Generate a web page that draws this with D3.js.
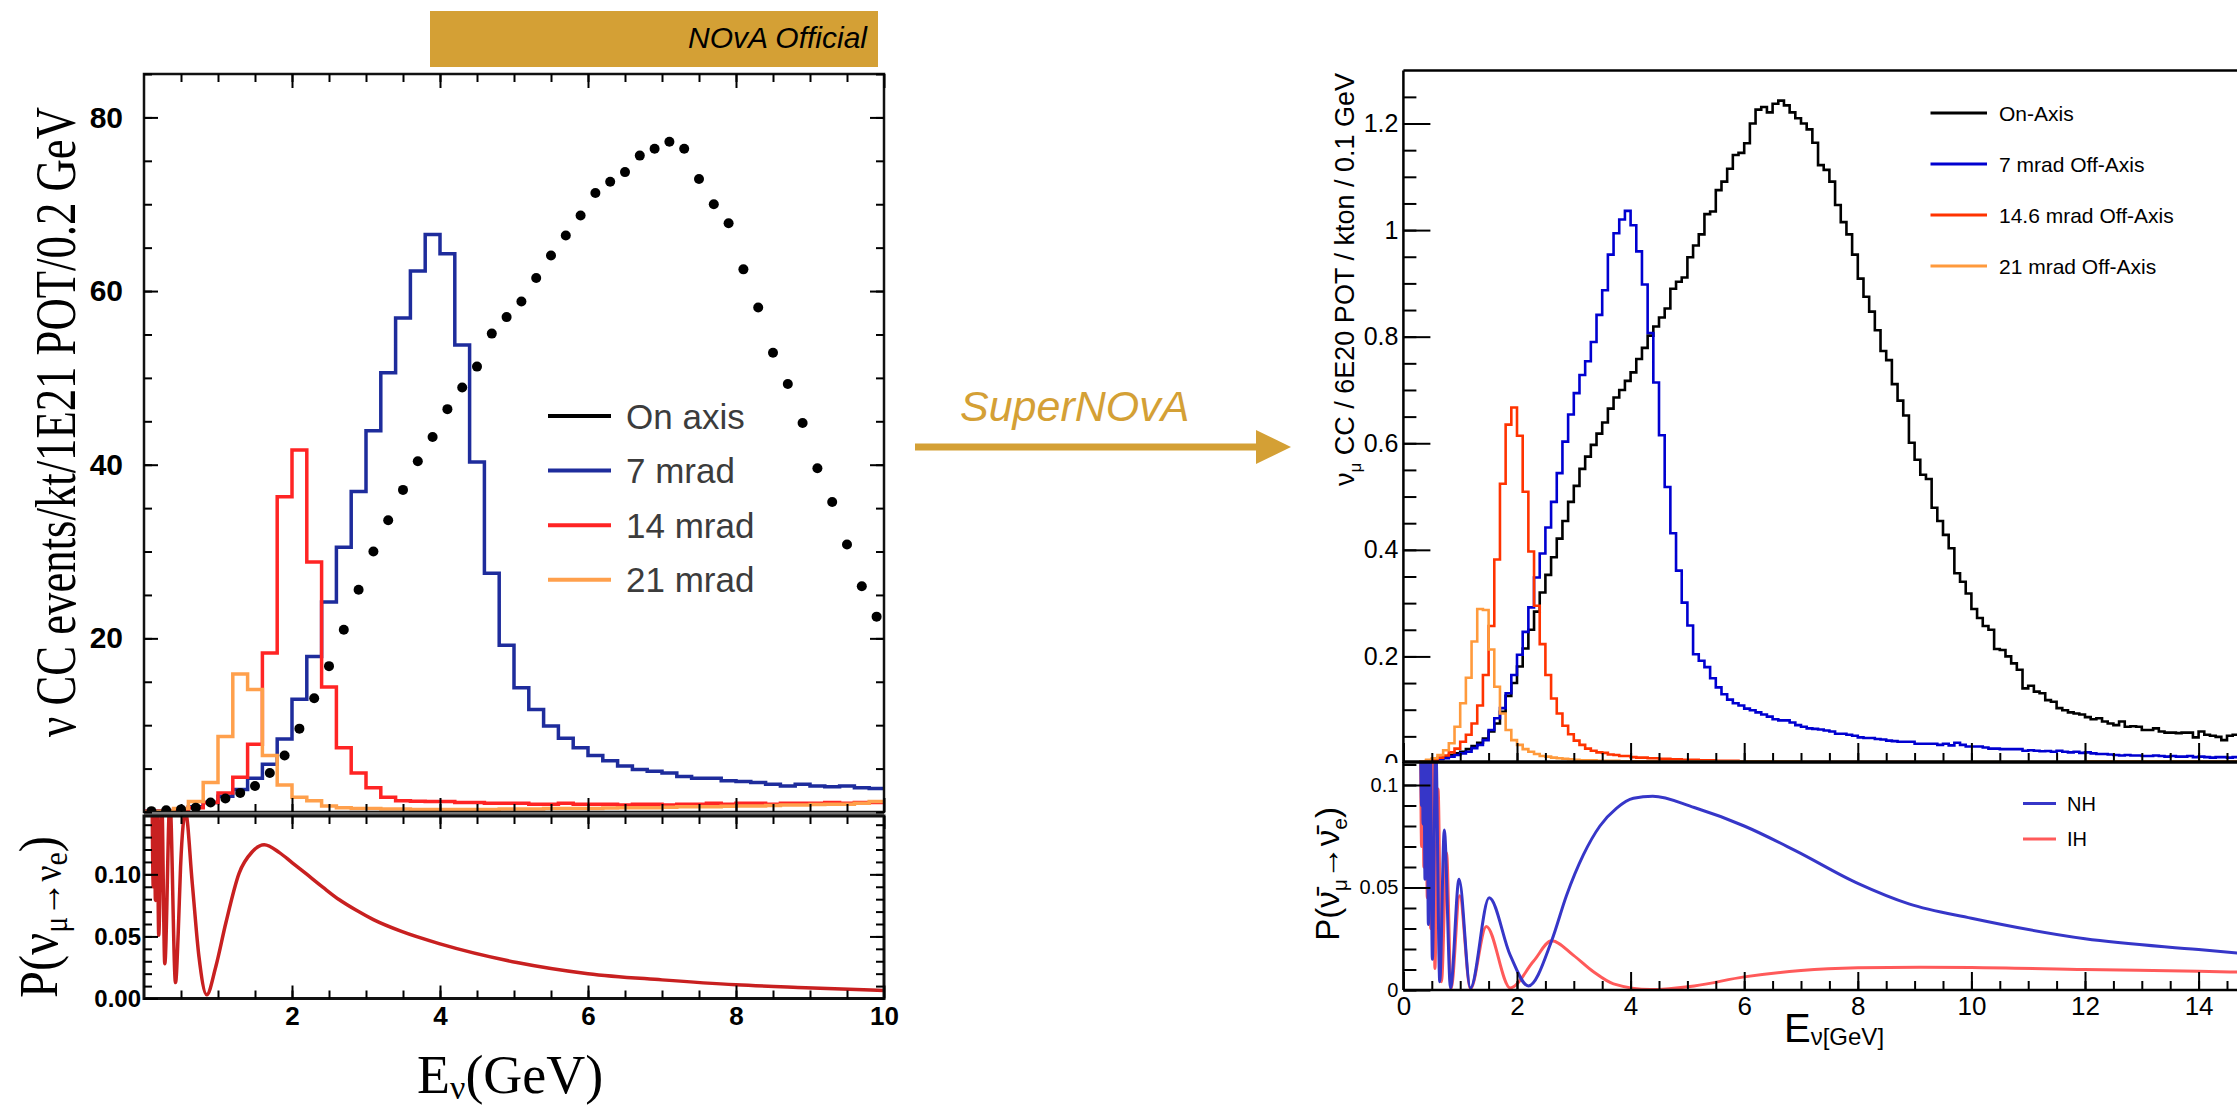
<!DOCTYPE html>
<html>
<head>
<meta charset="utf-8">
<script src="https://cdn.jsdelivr.net/npm/d3@7"></script>
<style>
body { margin: 0; background: #fff; }
svg { display: block; }
</style>
</head>
<body>
<svg id="chart" width="2237" height="1106"></svg>
<script>
// ---- left plot (NOvA official), 0.2 GeV bins ----
const LEFT_BIN = 0.2;
const leftLegend = ["On axis", "7 mrad", "14 mrad", "21 mrad"];
const leftColors = ["#000000", "#1e2c9c", "#ff2424", "#ffa04c"];
const leftOnAxis = [
  0.1, 0.2, 0.3, 0.5, 1.1, 1.55, 2.2, 3.0, 4.5, 6.5,
  9.6, 13.1, 16.8, 21.0, 25.6, 30.0, 33.6, 37.1, 40.4, 43.2,
  46.4, 48.9, 51.3, 55.1, 57.0, 58.8, 61.5, 64.1, 66.4, 68.7,
  71.3, 72.6, 73.7, 75.6, 76.4, 77.2, 76.4, 72.9, 70.0, 67.8,
  62.5, 58.1, 52.9, 49.3, 44.8, 39.6, 35.7, 30.8, 26.0, 22.5];
const left7mrad = [
  0.1, 0.15, 0.3, 0.6, 1.1, 1.8, 2.6, 3.9, 5.5, 8.4,
  13.0, 17.9, 24.2, 30.5, 36.9, 43.9, 50.6, 56.9, 62.3, 66.5,
  64.3, 53.8, 40.3, 27.5, 19.2, 14.3, 11.8, 9.9, 8.5, 7.4,
  6.5, 5.9, 5.3, 4.9, 4.7, 4.5, 4.1, 3.9, 3.9, 3.6,
  3.5, 3.4, 3.2, 3.0, 3.2, 3.0, 2.9, 3.0, 2.8, 2.7];
const left14mrad = [
  0.1, 0.1, 0.2, 0.5, 1.1, 2.2, 4.0, 7.8, 18.3, 36.3,
  41.7, 28.8, 14.4, 7.4, 4.5, 2.8, 1.7, 1.3, 1.25, 1.2,
  1.2, 1.1, 1.1, 1.0, 1.0, 1.0, 0.9, 0.9, 1.0, 0.9,
  0.9, 0.9, 0.8, 0.9, 0.9, 0.8, 0.9, 0.9, 1.0, 0.9,
  1.0, 1.0, 0.9, 1.0, 1.0, 1.0, 1.1, 1.0, 1.1, 1.1];
const left21mrad = [
  0.0, 0.1, 0.4, 1.2, 3.4, 8.7, 15.9, 14.1, 6.5, 3.1,
  1.7, 1.3, 0.7, 0.5, 0.4, 0.4, 0.35, 0.35, 0.3, 0.3,
  0.3, 0.3, 0.3, 0.3, 0.35, 0.35, 0.35, 0.4, 0.4, 0.4,
  0.4, 0.45, 0.5, 0.5, 0.5, 0.55, 0.6, 0.6, 0.6, 0.65,
  0.7, 0.7, 0.75, 0.8, 0.8, 0.85, 0.9, 0.9, 1.0, 1.2];
// P(numu -> nue) vs E, [GeV, prob]
const leftProb = [
  [0.11, 0.16], [0.125, 0.09], [0.14, 0.16], [0.154, 0.079], [0.177, 0.16], [0.199, 0.051],
  [0.24, 0.16], [0.281, 0.028], [0.35, 0.16], [0.426, 0.0128], [0.462, 0.052], [0.494, 0.106],
  [0.561, 0.15], [0.652, 0.093], [0.742, 0.034], [0.847, 0.003], [0.97, 0.0256], [1.105, 0.0606],
  [1.286, 0.101], [1.46, 0.118], [1.625, 0.1238], [1.83, 0.1175], [2.0, 0.1095], [2.19, 0.1005],
  [2.42, 0.0895], [2.64, 0.0795], [2.87, 0.0710], [3.1, 0.0635], [3.48, 0.054], [4.0, 0.044],
  [5.04, 0.029], [6.0, 0.020], [7.0, 0.015], [8.0, 0.011], [8.94, 0.0087], [10.0, 0.0064]];
const leftYTicks = [20, 40, 60, 80];
const leftPTicks = [0, 0.05, 0.10];
const leftXTicks = [2, 4, 6, 8, 10];

// ---- right plot (SuperNOvA), 0.1 GeV bins ----
const RIGHT_BIN = 0.1;
const rightLegend = ["On-Axis", "7 mrad Off-Axis", "14.6 mrad Off-Axis", "21 mrad Off-Axis"];
const rightColors = ["#000000", "#0000d0", "#ff3300", "#ff9a3c"];
const rightOnAxis = [
  0, 0, 0.001, 0.002, 0.004, 0.006, 0.008, 0.012, 0.015, 0.018,
  0.021, 0.026, 0.032, 0.038, 0.046, 0.059, 0.074, 0.096, 0.126, 0.150,
  0.181, 0.215, 0.250, 0.284, 0.320, 0.353, 0.386, 0.421, 0.454, 0.490,
  0.520, 0.552, 0.575, 0.597, 0.618, 0.639, 0.665, 0.686, 0.700, 0.717,
  0.733, 0.758, 0.779, 0.802, 0.819, 0.836, 0.853, 0.890, 0.903, 0.911,
  0.949, 0.971, 0.992, 1.030, 1.035, 1.075, 1.091, 1.115, 1.141, 1.145,
  1.163, 1.200, 1.226, 1.231, 1.221, 1.237, 1.243, 1.234, 1.221, 1.210,
  1.200, 1.189, 1.164, 1.122, 1.113, 1.091, 1.047, 1.015, 0.992, 0.954,
  0.909, 0.875, 0.847, 0.812, 0.773, 0.756, 0.711, 0.680, 0.652, 0.601,
  0.569, 0.541, 0.533, 0.479, 0.454, 0.428, 0.403, 0.356, 0.340, 0.318,
  0.289, 0.272, 0.257, 0.250, 0.214, 0.212, 0.200, 0.187, 0.175, 0.140,
  0.145, 0.134, 0.131, 0.118, 0.115, 0.103, 0.099, 0.095, 0.093, 0.091,
  0.086, 0.082, 0.084, 0.078, 0.074, 0.071, 0.078, 0.068, 0.069, 0.068,
  0.062, 0.062, 0.065, 0.059, 0.057, 0.057, 0.056, 0.057, 0.057, 0.048,
  0.059, 0.053, 0.051, 0.049, 0.043, 0.051, 0.053, 0.043];
const right7mrad = [
  0, 0, 0.001, 0.002, 0.003, 0.005, 0.007, 0.009, 0.012, 0.015,
  0.018, 0.021, 0.028, 0.034, 0.043, 0.062, 0.084, 0.103, 0.131, 0.165,
  0.203, 0.246, 0.292, 0.348, 0.393, 0.442, 0.490, 0.544, 0.603, 0.654,
  0.694, 0.728, 0.754, 0.790, 0.841, 0.887, 0.954, 0.994, 1.020, 1.036,
  1.009, 0.960, 0.898, 0.807, 0.714, 0.615, 0.518, 0.431, 0.361, 0.301,
  0.258, 0.204, 0.192, 0.180, 0.159, 0.142, 0.129, 0.119, 0.112, 0.108,
  0.102, 0.099, 0.095, 0.091, 0.087, 0.082, 0.080, 0.080, 0.076, 0.071,
  0.068, 0.065, 0.064, 0.063, 0.061, 0.059, 0.055, 0.055, 0.053, 0.051,
  0.048, 0.047, 0.047, 0.045, 0.044, 0.042, 0.041, 0.040, 0.040, 0.040,
  0.036, 0.036, 0.036, 0.036, 0.034, 0.036, 0.033, 0.038, 0.034, 0.031,
  0.031, 0.031, 0.029, 0.027, 0.027, 0.026, 0.026, 0.026, 0.026, 0.023,
  0.024, 0.023, 0.022, 0.0225, 0.021, 0.023, 0.021, 0.020, 0.021, 0.019,
  0.020, 0.018, 0.017, 0.017, 0.016, 0.015, 0.014, 0.015, 0.014, 0.014,
  0.013, 0.013, 0.014, 0.013, 0.012, 0.013, 0.012, 0.012, 0.013, 0.011,
  0.012, 0.011, 0.010, 0.011, 0.011, 0.010, 0.011, 0.010];
const right146mrad = [
  0, 0, 0.001, 0.002, 0.003, 0.005, 0.010, 0.014, 0.020, 0.027,
  0.040, 0.053, 0.074, 0.108, 0.165, 0.257, 0.382, 0.524, 0.635, 0.667,
  0.614, 0.509, 0.397, 0.295, 0.223, 0.165, 0.121, 0.093, 0.070, 0.054,
  0.042, 0.034, 0.027, 0.023, 0.020, 0.019, 0.016, 0.015, 0.013, 0.013,
  0.011, 0.010, 0.010, 0.009, 0.009, 0.008, 0.008, 0.007, 0.007, 0.006,
  0.006, 0.006, 0.005, 0.005, 0.005, 0.004, 0.004, 0.004, 0.004, 0.003,
  0.003, 0.003, 0.003, 0.003, 0.003, 0.003, 0.002, 0.002, 0.002, 0.002,
  0.002, 0.002, 0.002, 0.002, 0.002, 0.002, 0.002, 0.002, 0.002, 0.002,
  0.002, 0.002, 0.002, 0.002, 0.002, 0.002, 0.002, 0.002, 0.002, 0.002,
  0.001, 0.001, 0.001, 0.001, 0.001, 0.001, 0.001, 0.001, 0.001, 0.001,
  0.001, 0.001, 0.001, 0.001, 0.001, 0.001, 0.001, 0.001, 0.001, 0.001,
  0.001, 0.001, 0.001, 0.001, 0.001, 0.001, 0.001, 0.001, 0.001, 0.001,
  0.001, 0.001, 0.001, 0.001, 0.001, 0.001, 0.001, 0.001, 0.001, 0.001,
  0.001, 0.001, 0.001, 0.001, 0.001, 0.001, 0.001, 0.001, 0.001, 0.001,
  0.001, 0.001, 0.001, 0.001, 0.001, 0.001, 0.001, 0.001];
const right21mrad = [
  0, 0, 0.001, 0.003, 0.006, 0.009, 0.015, 0.024, 0.037, 0.068,
  0.112, 0.160, 0.228, 0.289, 0.287, 0.213, 0.143, 0.093, 0.062, 0.043,
  0.034, 0.026, 0.021, 0.017, 0.013, 0.012, 0.010, 0.009, 0.008, 0.007,
  0.006, 0.005, 0.005, 0.005, 0.004, 0.004, 0.004, 0.004, 0.003, 0.003,
  0.003, 0.003, 0.003, 0.003, 0.003, 0.003, 0.003, 0.003, 0.003, 0.003,
  0.003, 0.003, 0.003, 0.003, 0.003, 0.003, 0.003, 0.003, 0.003, 0.003,
  0.003, 0.003, 0.003, 0.003, 0.003, 0.003, 0.003, 0.003, 0.003, 0.003,
  0.002, 0.002, 0.002, 0.002, 0.002, 0.002, 0.002, 0.002, 0.002, 0.002,
  0.002, 0.002, 0.002, 0.002, 0.002, 0.002, 0.002, 0.002, 0.002, 0.002,
  0.002, 0.002, 0.002, 0.002, 0.002, 0.002, 0.002, 0.002, 0.002, 0.002,
  0.002, 0.002, 0.002, 0.002, 0.002, 0.002, 0.002, 0.002, 0.002, 0.002,
  0.002, 0.002, 0.002, 0.002, 0.002, 0.002, 0.002, 0.002, 0.002, 0.002,
  0.003, 0.003, 0.003, 0.003, 0.003, 0.003, 0.003, 0.003, 0.003, 0.003,
  0.003, 0.003, 0.003, 0.003, 0.003, 0.003, 0.003, 0.003, 0.003, 0.003,
  0.003, 0.003, 0.003, 0.003, 0.003, 0.003, 0.003, 0.003];
// P(anti-numu -> anti-nue) vs E, [GeV, prob]
const probNH = [
  [0.30, 0.13], [0.32, 0.09], [0.335, 0.13], [0.345, 0.081], [0.36, 0.13], [0.38, 0.054],
  [0.41, 0.13], [0.44, 0.032], [0.47, 0.13], [0.51, 0.015], [0.57, 0.12], [0.64, 0.004],
  [0.72, 0.078], [0.83, 0.001], [0.98, 0.054], [1.18, 0.001], [1.51, 0.045], [1.88, 0.017],
  [2.20, 0.002], [2.61, 0.024], [2.87, 0.046], [3.17, 0.066], [3.46, 0.080], [3.75, 0.0886],
  [4.05, 0.0935], [4.39, 0.0945], [5.12, 0.089], [6.0, 0.080], [6.9, 0.068], [8.0, 0.052],
  [8.9, 0.042], [10.0, 0.035], [12.0, 0.025], [14.0, 0.0197], [15.0, 0.0172]];
const probIH = [
  [0.30, 0.13], [0.32, 0.07], [0.34, 0.13], [0.36, 0.06], [0.39, 0.13], [0.42, 0.045],
  [0.45, 0.13], [0.48, 0.03], [0.52, 0.12], [0.555, 0.0105], [0.61, 0.098], [0.67, 0.004],
  [0.76, 0.067], [0.84, 0.0005], [0.99, 0.046], [1.18, 0.0005], [1.46, 0.031], [1.88, 0.001],
  [2.29, 0.014], [2.61, 0.024], [2.99, 0.017], [3.34, 0.009], [3.70, 0.003], [4.35, 0.0002],
  [5.12, 0.002], [6.0, 0.0064], [7.0, 0.0095], [8.0, 0.0108], [9.1, 0.0111], [10.0, 0.011],
  [12.0, 0.010], [14.0, 0.0091], [15.0, 0.0086]];
const probLegend = ["NH", "IH"];
const probColors = ["#3636c8", "#ff5a5a"];
const rightYTicks = [0, 0.2, 0.4, 0.6, 0.8, 1, 1.2];
const rightPTicks = [0, 0.05, 0.1];
const rightXTicks = [0, 2, 4, 6, 8, 10, 12, 14];

const GOLD = "#d4a035";
const SANS = "Liberation Sans, Arial, sans-serif";
const SERIF = "Liberation Serif, Times New Roman, serif";

const svg = d3.select("#chart");
const defs = svg.append("defs");
svg.append("rect").attr("width", 2237).attr("height", 1106).attr("fill", "#fff");

function clipRect(id, x, y, w, h) {
  defs.append("clipPath").attr("id", id).append("rect")
    .attr("x", x).attr("y", y).attr("width", w).attr("height", h);
}
// histogram bins -> points for a step line
function binPts(vals, w) {
  const p = vals.map((v, i) => [i * w, v]);
  p.push([vals.length * w, vals[vals.length - 1]]);
  return p;
}
function ticks(axisFn, scale, vals, size, tx, ty, fmt, pad, font) {
  const ax = axisFn(scale).tickValues(vals).tickSizeInner(size).tickSizeOuter(0)
    .tickPadding(pad || 3).tickFormat(fmt || (() => ""));
  const g = svg.append("g").attr("transform", `translate(${tx},${ty})`).call(ax);
  g.select(".domain").remove();
  g.selectAll(".tick line").attr("stroke", "#000").attr("stroke-width", 2);
  if (font) {
    g.selectAll(".tick text").attr("font-family", font.family).attr("font-size", font.size)
      .attr("font-weight", font.weight || "normal").attr("fill", "#000");
  }
  return g;
}
// squeeze a rotated title along its length so it spans `len` px
function fitRotated(text, x, y, len) {
  const w = text.node().getComputedTextLength();
  text.attr("transform", `translate(${x},${y}) rotate(-90) scale(${len / w},1)`);
}

// ================= LEFT =================
const xL = d3.scaleLinear().domain([0, 10]).range([144, 884]);
const yL = d3.scaleLinear().domain([0, 85]).range([812, 74]);
const yLP = d3.scaleLinear().domain([0, 0.147]).range([998.5, 816]);
clipRect("clipLT", 144, 74, 740, 738);
clipRect("clipLB", 144, 816, 740, 182.5);

const lineL = d3.line().x(d => xL(d[0])).y(d => yL(d[1])).curve(d3.curveStepAfter);
const gLT = svg.append("g").attr("clip-path", "url(#clipLT)");
[[left7mrad, 1], [left14mrad, 2], [left21mrad, 3]].forEach(([vals, c]) => {
  gLT.append("path").attr("d", lineL(binPts(vals, LEFT_BIN)))
    .attr("fill", "none").attr("stroke", leftColors[c]).attr("stroke-width", 3.5);
});
gLT.selectAll("circle").data(leftOnAxis).join("circle")
  .attr("cx", (d, i) => xL((i + 0.5) * LEFT_BIN)).attr("cy", d => yL(d))
  .attr("r", 5).attr("fill", "#000");

const gLB = svg.append("g").attr("clip-path", "url(#clipLB)");
gLB.append("path")
  .attr("d", d3.line().x(d => xL(d[0])).y(d => yLP(d[1])).curve(d3.curveMonotoneX)(leftProb))
  .attr("fill", "none").attr("stroke", "#c82020").attr("stroke-width", 3.5);

// frames
svg.append("rect").attr("x", 144).attr("y", 74).attr("width", 740).attr("height", 738)
  .attr("fill", "none").attr("stroke", "#111").attr("stroke-width", 2.5);
svg.append("rect").attr("x", 144).attr("y", 812).attr("width", 740).attr("height", 4).attr("fill", "#777");
svg.append("rect").attr("x", 144).attr("y", 816).attr("width", 740).attr("height", 182.5)
  .attr("fill", "none").attr("stroke", "#111").attr("stroke-width", 3);

// left ticks
const boldL = { family: SANS, size: 30, weight: "bold" };
ticks(d3.axisLeft, yL, leftYTicks, -14, 144, 0, d => String(d), 21, boldL);
ticks(d3.axisLeft, yL, d3.range(0, 86, 5), -8, 144, 0);
ticks(d3.axisRight, yL, leftYTicks, -14, 884, 0);
ticks(d3.axisRight, yL, d3.range(0, 86, 5), -8, 884, 0);
ticks(d3.axisTop, xL, leftXTicks, -14, 0, 74);
ticks(d3.axisTop, xL, d3.range(0.5, 10, 0.5), -8, 0, 74);
ticks(d3.axisBottom, xL, leftXTicks, -14, 0, 812);
ticks(d3.axisBottom, xL, d3.range(0.5, 10, 0.5), -8, 0, 812);
ticks(d3.axisLeft, yLP, leftPTicks, -14, 144, 0, d3.format(".2f"), 3, { family: SANS, size: 24, weight: "bold" });
ticks(d3.axisLeft, yLP, d3.range(0, 0.147, 0.01), -8, 144, 0);
ticks(d3.axisRight, yLP, leftPTicks, -14, 884, 0);
ticks(d3.axisRight, yLP, d3.range(0, 0.147, 0.01), -8, 884, 0);
ticks(d3.axisBottom, xL, leftXTicks, -13, 0, 998.5, d => String(d), 8, { family: SANS, size: 26, weight: "bold" });
ticks(d3.axisBottom, xL, d3.range(0.5, 10, 0.5), -8, 0, 998.5);
ticks(d3.axisTop, xL, leftXTicks, -13, 0, 816);
ticks(d3.axisTop, xL, d3.range(0.5, 10, 0.5), -8, 0, 816);

// left legend
const legL = svg.append("g");
leftLegend.forEach((name, i) => {
  const y = 416 + i * 54.6;
  legL.append("line").attr("x1", 548).attr("x2", 611).attr("y1", y).attr("y2", y)
    .attr("stroke", leftColors[i]).attr("stroke-width", 4);
  legL.append("text").attr("x", 626).attr("y", y).attr("dy", "0.36em")
    .attr("font-family", SANS).attr("font-size", 35).attr("fill", "#3c3c3c").text(name);
});

// left titles
const tY = svg.append("text").attr("text-anchor", "middle")
  .attr("font-family", SERIF).attr("font-size", 56)
  .text("ν CC events/kt/1E21 POT/0.2 GeV");
fitRotated(tY, 75, 422, 630);
const tP = svg.append("text").attr("text-anchor", "middle")
  .attr("font-family", SERIF).attr("font-size", 55);
tP.append("tspan").text("P(ν");
tP.append("tspan").attr("font-size", 34).attr("dy", 10).text("μ");
tP.append("tspan").attr("font-size", 40).attr("dy", -6).text("→ν");
tP.append("tspan").attr("font-size", 34).attr("dy", 6).text("e");
tP.append("tspan").attr("dy", -10).text(")");
fitRotated(tP, 57, 917, 162);
const tE = svg.append("text").attr("x", 417).attr("y", 1093)
  .attr("font-family", SERIF).attr("font-size", 54);
tE.append("tspan").text("E");
tE.append("tspan").attr("font-size", 34).attr("dy", 6).text("ν");
tE.append("tspan").attr("dy", -6).text("(GeV)");

// banner
svg.append("rect").attr("x", 430).attr("y", 11).attr("width", 448).attr("height", 56).attr("fill", GOLD);
svg.append("text").attr("x", 867).attr("y", 48).attr("text-anchor", "end")
  .attr("font-family", SANS).attr("font-style", "italic").attr("font-size", 30)
  .attr("fill", "#000").text("NOvA Official");

// arrow
svg.append("line").attr("x1", 915).attr("x2", 1258).attr("y1", 447).attr("y2", 447)
  .attr("stroke", GOLD).attr("stroke-width", 7);
svg.append("path").attr("d", "M1256,430 L1291,447 L1256,464 Z").attr("fill", GOLD);
svg.append("text").attr("x", 960).attr("y", 421)
  .attr("font-family", SANS).attr("font-style", "italic").attr("font-size", 43)
  .attr("fill", GOLD).text("SuperNOvA");

// ================= RIGHT =================
const xR = d3.scaleLinear().domain([0, 16]).range([1403.4, 1403.4 + 16 * 56.8]);
const yR = d3.scaleLinear().domain([0, 1.3]).range([763, 763 - 1.3 * 532.9]);
const yRP = d3.scaleLinear().domain([0, 0.111]).range([990, 990 - 0.111 * 2050]);
clipRect("clipRT", 1403.4, 70.6, 900, 692.4);
clipRect("clipRB", 1403.4, 762, 900, 228);

const lineR = d3.line().x(d => xR(d[0])).y(d => yR(d[1])).curve(d3.curveStepAfter);
const gRT = svg.append("g").attr("clip-path", "url(#clipRT)");
[rightOnAxis, right7mrad, right146mrad, right21mrad].forEach((vals, i) => {
  gRT.append("path").attr("d", lineR(binPts(vals, RIGHT_BIN)))
    .attr("fill", "none").attr("stroke", rightColors[i]).attr("stroke-width", 2.6);
});

// top pad frame + ticks
svg.append("line").attr("x1", 1403.4).attr("x2", 2237).attr("y1", 70.6).attr("y2", 70.6)
  .attr("stroke", "#000").attr("stroke-width", 2.5);
svg.append("line").attr("x1", 1403.4).attr("x2", 1403.4).attr("y1", 70.6).attr("y2", 763)
  .attr("stroke", "#000").attr("stroke-width", 2.5);
ticks(d3.axisLeft, yR, rightYTicks, -27, 1403.4, 0, d => String(d), 5, { family: SANS, size: 25 });
ticks(d3.axisLeft, yR, d3.range(0, 1.3, 0.05), -13, 1403.4, 0);
ticks(d3.axisBottom, xR, rightXTicks, -20, 0, 763);
ticks(d3.axisBottom, xR, d3.range(0.5, 15, 0.5), -10, 0, 763);

// legend
const legR = svg.append("g");
rightLegend.forEach((name, i) => {
  const y = 113 + i * 51;
  legR.append("line").attr("x1", 1930.5).attr("x2", 1987).attr("y1", y).attr("y2", y)
    .attr("stroke", rightColors[i]).attr("stroke-width", 3);
  legR.append("text").attr("x", 1999).attr("y", y).attr("dy", "0.36em")
    .attr("font-family", SANS).attr("font-size", 21).attr("fill", "#000").text(name);
});

// y title top
const tRY = svg.append("text").attr("transform", "translate(1354,73) rotate(-90)")
  .attr("text-anchor", "end").attr("font-family", SANS).attr("font-size", 27);
tRY.append("tspan").text("ν");
tRY.append("tspan").attr("font-size", 17).attr("dy", 7).text("μ");
tRY.append("tspan").attr("dy", -7).text(" CC / 6E20 POT / kton / 0.1 GeV");

// bottom pad covers lower half of the top pad's "0"
svg.append("rect").attr("x", 1290).attr("y", 763).attr("width", 947).attr("height", 240).attr("fill", "#fff");

const gRB = svg.append("g").attr("clip-path", "url(#clipRB)");
const lineP = d3.line().x(d => xR(d[0])).y(d => yRP(d[1])).curve(d3.curveMonotoneX);
gRB.append("path").attr("d", lineP(probIH)).attr("fill", "none")
  .attr("stroke", probColors[1]).attr("stroke-width", 3);
gRB.append("path").attr("d", lineP(probNH)).attr("fill", "none")
  .attr("stroke", probColors[0]).attr("stroke-width", 3);

svg.append("line").attr("x1", 1403.4).attr("x2", 2237).attr("y1", 762).attr("y2", 762)
  .attr("stroke", "#000").attr("stroke-width", 3.5);
svg.append("line").attr("x1", 1403.4).attr("x2", 2237).attr("y1", 990).attr("y2", 990)
  .attr("stroke", "#000").attr("stroke-width", 2.5);
svg.append("line").attr("x1", 1403.4).attr("x2", 1403.4).attr("y1", 762).attr("y2", 990)
  .attr("stroke", "#000").attr("stroke-width", 2.5);
ticks(d3.axisLeft, yRP, rightPTicks, -27, 1403.4, 0, d => String(d), 5, { family: SANS, size: 20 });
ticks(d3.axisLeft, yRP, d3.range(0, 0.111, 0.01), -13, 1403.4, 0);
ticks(d3.axisBottom, xR, rightXTicks, -18, 0, 990, d => String(d), 6.5, { family: SANS, size: 26 });
ticks(d3.axisBottom, xR, d3.range(0.5, 15, 0.5), -9, 0, 990);

const legP = svg.append("g");
probLegend.forEach((name, i) => {
  const y = 803.5 + i * 35.5;
  legP.append("line").attr("x1", 2023).attr("x2", 2056).attr("y1", y).attr("y2", y)
    .attr("stroke", probColors[i]).attr("stroke-width", 3);
  legP.append("text").attr("x", 2067).attr("y", y).attr("dy", "0.36em")
    .attr("font-family", SANS).attr("font-size", 20).attr("fill", "#000").text(name);
});

// bottom titles
const tRP = svg.append("text").attr("transform", "translate(1339,807) rotate(-90)")
  .attr("text-anchor", "end").attr("font-family", SANS).attr("font-size", 33);
tRP.append("tspan").text("P(\u03BD\u0304");
tRP.append("tspan").attr("font-size", 21).attr("dy", 8).text("μ");
tRP.append("tspan").attr("dy", -8).text("→\u03BD\u0304");
tRP.append("tspan").attr("font-size", 21).attr("dy", 8).text("e");
tRP.append("tspan").attr("dy", -8).text(")");
const tRX = svg.append("text").attr("x", 1784).attr("y", 1042)
  .attr("font-family", SANS).attr("font-size", 40);
tRX.append("tspan").text("E");
tRX.append("tspan").attr("font-size", 24).attr("dy", 3).text("ν[GeV]");
</script>
</body>
</html>
